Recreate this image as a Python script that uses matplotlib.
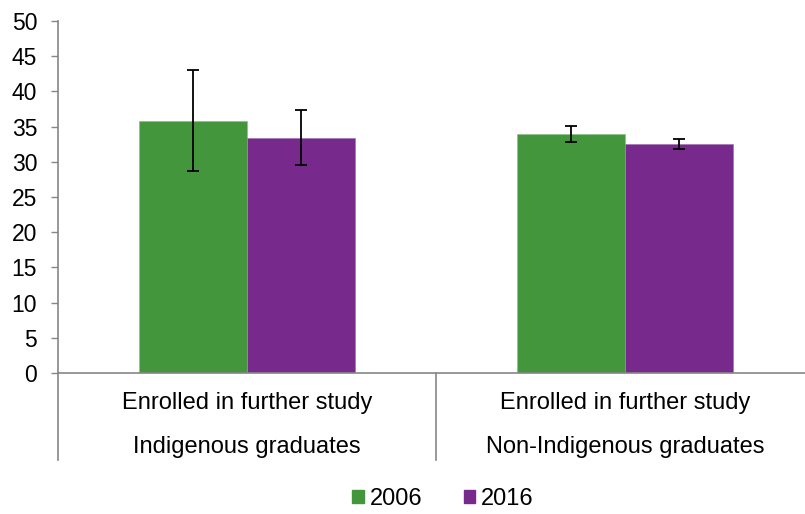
import matplotlib
matplotlib.use("Agg")
import matplotlib.pyplot as plt
import numpy as np
from matplotlib.patches import Rectangle

plt.rcParams['font.family'] = ['Liberation Sans', 'DejaVu Sans']

groups = ["Indigenous graduates", "Non-Indigenous graduates"]
sublabel = "Enrolled in further study"
series = ["2006", "2016"]
values_2006 = [35.8, 33.9]
values_2016 = [33.4, 32.5]
err_low_2006 = [28.7, 32.8]
err_high_2006 = [43.0, 35.1]
err_low_2016 = [29.5, 31.8]
err_high_2016 = [37.4, 33.2]
yticks = [0, 5, 10, 15, 20, 25, 30, 35, 40, 45, 50]

green = "#43963C"
purple = "#782A8C"
axis_gray = "#868686"
FS = 17

W, H = 805, 514
fig = plt.figure(figsize=(W / 100, H / 100), dpi=100)
x0, x1 = 58, 814
y0, y1 = 373, 21
ax = fig.add_axes([x0 / W, 1 - y0 / H, (x1 - x0) / W, (y0 - y1) / H])

centers = np.arange(len(groups)) + 0.5
bw = 0.287
vals = [values_2006, values_2016]
lows = [err_low_2006, err_low_2016]
highs = [err_high_2006, err_high_2016]
cols = [green, purple]
edges = ["#8CC487", "#A77BB5"]
for i, s in enumerate(series):
    xs = centers + (i - 0.5) * bw
    v = np.array(vals[i])
    ax.bar(xs, v, width=bw, color=cols[i], edgecolor=edges[i], linewidth=0.6, label=s, zorder=2)
    yerr = np.array([v - np.array(lows[i]), np.array(highs[i]) - v])
    ax.errorbar(xs, v, yerr=yerr, fmt='none', ecolor='black', elinewidth=1.3,
                capsize=4.3, capthick=1.3, zorder=3)

ax.set_xlim(0, 2)
ax.set_ylim(0, 50)
ax.set_yticks(yticks)
ax.set_yticklabels([str(t) for t in yticks], fontsize=FS - 0.5)
ax.tick_params(axis='y', direction='out', length=5, color=axis_gray, width=1, pad=10)
ax.set_xticks([])
for sp in ['top', 'right']:
    ax.spines[sp].set_visible(False)
for sp in ['left', 'bottom']:
    ax.spines[sp].set_color(axis_gray)
    ax.spines[sp].set_linewidth(1.2)

# group separators below axis
trans = ax.get_xaxis_transform()
sep_len = 87 / (y0 - y1)
for xv in [0, 1, 2]:
    ax.plot([xv, xv], [0, -sep_len], transform=trans, color=axis_gray, lw=1.2, clip_on=False)

for c, g in zip(centers, groups):
    ax.text(c, -30 / (y0 - y1), sublabel, transform=trans, ha='center', va='center', fontsize=FS)
    ax.text(c, -74 / (y0 - y1), g, transform=trans, ha='center', va='center', fontsize=FS)

handles = [Rectangle((0, 0), 1, 1, color=c) for c in cols]
fig.legend(handles, series, loc='center', bbox_to_anchor=(443 / W, 1 - 499 / H),
           ncol=2, frameon=False, fontsize=FS, handlelength=0.5, handleheight=0.5,
           handletextpad=0.25, columnspacing=1.75, borderpad=0, borderaxespad=0)

fig.savefig("out.png", dpi=100)
